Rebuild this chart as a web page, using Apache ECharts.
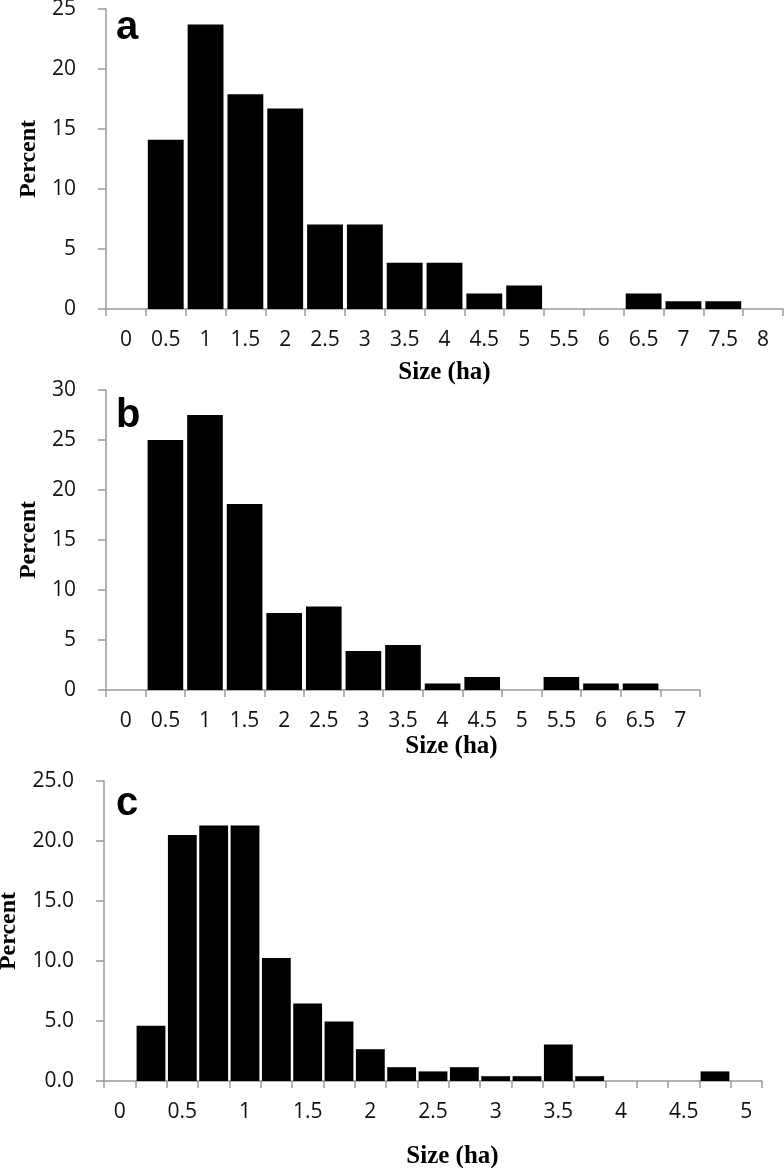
<!DOCTYPE html>
<html>
<head>
<meta charset="utf-8">
<script src="https://cdn.jsdelivr.net/npm/echarts@6/dist/echarts.min.js"></script>
<style>
html,body{margin:0;padding:0;background:#fff;}
#chart{width:784px;height:1168px;}
</style>
</head>
<body>
<div id="chart"></div>
<script>
// Panel a
const catsA = ['0','0.5','1','1.5','2','2.5','3','3.5','4','4.5','5','5.5','6','6.5','7','7.5','8'];
const valsA = [0,14.1,23.7,17.9,16.7,7.05,7.05,3.85,3.85,1.3,1.95,0,0,1.3,0.65,0.65,0];
// Panel b
const catsB = ['0','0.5','1','1.5','2','2.5','3','3.5','4','4.5','5','5.5','6','6.5','7'];
const valsB = [0,25.0,27.5,18.6,7.7,8.35,3.9,4.5,0.65,1.3,0,1.3,0.65,0.65,0];
// Panel c
const catsC = ['0','0.25','0.5','0.75','1','1.25','1.5','1.75','2','2.25','2.5','2.75','3','3.25','3.5','3.75','4','4.25','4.5','4.75','5'];
const valsC = [0,4.6,20.5,21.3,21.3,10.25,6.45,4.95,2.65,1.15,0.8,1.15,0.4,0.4,3.05,0.4,0,0,0,0.8,0];
const panelLetters = ['a','b','c'];
const xName = 'Size (ha)';
const yName = 'Percent';

const axisGray = '#9a9a9a';
const labelFont = {fontFamily:'Open Sans', fontSize:21, color:'#111'};
const xNameFont = {fontFamily:'Liberation Serif', fontWeight:'bold', fontSize:25, color:'#000'};
const yNameFont = {fontFamily:'Liberation Serif', fontWeight:'bold', fontSize:24, color:'#000'};

function xAxis(idx, cats, labelInterval, nameGap, shift){
  return {
    type:'category', gridIndex:idx, data:cats, boundaryGap:true,
    name:xName, nameLocation:'middle', nameGap:nameGap,
    nameTextStyle:Object.assign({padding:[0,0,0,shift*2]}, xNameFont),
    axisLine:{lineStyle:{color:axisGray,width:1.5}},
    axisTick:{show:true,interval:0,alignWithLabel:false,length:7,lineStyle:{color:axisGray,width:1.5}},
    axisLabel:Object.assign({interval:labelInterval, margin:21}, labelFont),
    splitLine:{show:false}
  };
}
function yAxis(idx, max, nameGap, dec){
  return {
    type:'value', gridIndex:idx, min:0, max:max, interval:5,
    name:yName, nameLocation:'middle', nameGap:nameGap, nameRotate:90,
    nameTextStyle:yNameFont,
    axisLine:{show:true,lineStyle:{color:axisGray,width:1.5}},
    axisTick:{show:true,length:8,lineStyle:{color:axisGray,width:1.5}},
    axisLabel:Object.assign({margin:30, formatter: v => dec ? v.toFixed(1) : String(v)}, labelFont),
    splitLine:{show:false}
  };
}
function series(idx, vals, gap){
  return {
    type:'bar', xAxisIndex:idx, yAxisIndex:idx, data:vals,
    barCategoryGap:gap, itemStyle:{color:'#000'}, silent:true, animation:false
  };
}

const chart = echarts.init(document.getElementById('chart'), null, {renderer:'canvas'});
chart.setOption({
  animation:false,
  backgroundColor:'#fff',
  title:[
    {text:panelLetters[0], left:116, top:8, padding:0, textStyle:{fontFamily:'Liberation Sans',fontWeight:'bold',fontSize:40,color:'#000'}},
    {text:panelLetters[1], left:116, top:396, padding:0, textStyle:{fontFamily:'Liberation Sans',fontWeight:'bold',fontSize:40,color:'#000'}},
    {text:panelLetters[2], left:116, top:784, padding:0, textStyle:{fontFamily:'Liberation Sans',fontWeight:'bold',fontSize:40,color:'#000'}}
  ],
  grid:[
    {left:106, top:9, width:677, height:300, containLabel:false, outerBoundsMode:'none'},
    {left:106, top:390, width:594, height:300, containLabel:false, outerBoundsMode:'none'},
    {left:104, top:781, width:658, height:300, containLabel:false, outerBoundsMode:'none'}
  ],
  xAxis:[
    xAxis(0, catsA, 0, 51, 0),
    xAxis(1, catsB, 0, 44, 48.5),
    xAxis(2, catsC, 1, 63, 19.5)
  ],
  yAxis:[
    yAxis(0, 25, 64, false),
    yAxis(1, 30, 64, false),
    yAxis(2, 25, 83, true)
  ],
  series:[
    series(0, valsA, '10%'),
    series(1, valsB, '10%'),
    series(2, valsC, '8%')
  ]
});
</script>
</body>
</html>
